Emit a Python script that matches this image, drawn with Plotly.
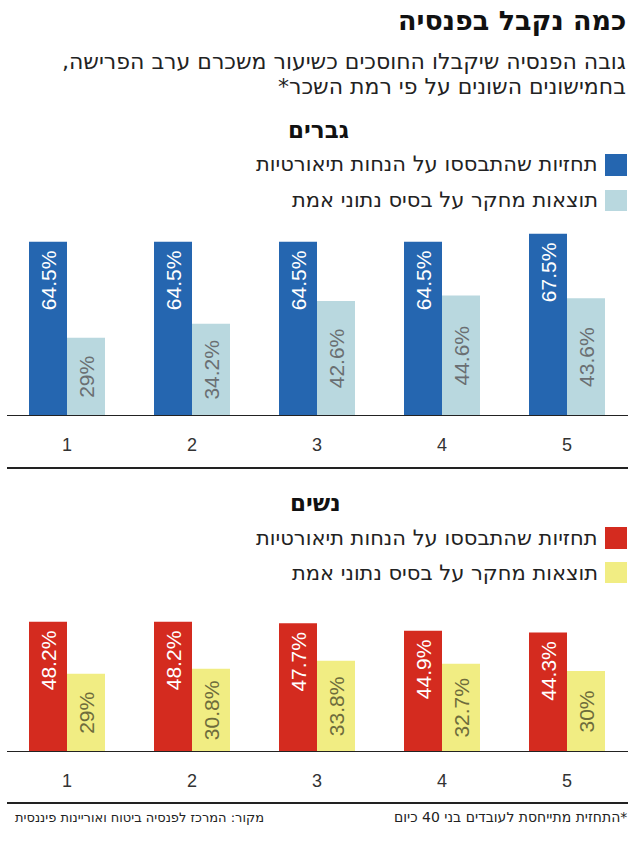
import plotly.graph_objects as go

categories = ["1", "2", "3", "4", "5"]
men_forecast = [64.5, 64.5, 64.5, 64.5, 67.5]
men_actual = [29, 34.2, 42.6, 44.6, 43.6]
women_forecast = [48.2, 48.2, 47.7, 44.9, 44.3]
women_actual = [29, 30.8, 33.8, 32.7, 30]

title = "כמה נקבל בפנסיה"
subtitle1 = "גובה הפנסיה שיקבלו החוסכים כשיעור משכרם ערב הפרישה,"
subtitle2 = "בחמישונים השונים על פי רמת השכר*"
men_label = "גברים"
women_label = "נשים"
legend_forecast = "תחזיות שהתבססו על הנחות תיאורטיות"
legend_actual = "תוצאות מחקר על בסיס נתוני אמת"
source = "מקור: המרכז לפנסיה ביטוח ואוריינות פיננסית"
footnote = "*התחזית מתייחסת לעובדים בני 40 כיום"

W, H = 634, 859
BLUE = "#2566b0"
LBLUE = "#b9d8df"
RED = "#d42b1f"
YELLOW = "#f1ed83"
FONT = "Liberation Sans"
HFONT = "DejaVu Sans"

RLM = "\u200f"
def rtl(s):
    return RLM + s + RLM

def py(p):
    return 1 - p / H

xs = list(range(1, len(categories) + 1))

fig = go.Figure()

def bars(vals, color, tcolor, anchor, xa, ya, pad=""):
    fig.add_trace(go.Bar(
        x=xs, y=vals, xaxis=xa, yaxis=ya, marker=dict(color=color, line=dict(width=0)),
        text=[f"{v:g}%{pad}" for v in vals], textposition="inside", insidetextanchor=anchor, textangle=-90,
        textfont=dict(color=tcolor, size=21, family=FONT), hoverinfo="skip",
    ))

bars(men_forecast, BLUE, "white", "end", "x", "y", pad="\u00a0")
bars(men_actual, LBLUE, "#6a6f72", "middle", "x", "y")
bars(women_forecast, RED, "white", "end", "x2", "y2", pad="\u00a0")
bars(women_actual, YELLOW, "#6e6c3c", "middle", "x2", "y2")

SCALE = 2.7  # px per percent
base1, top1 = 416, 220
base2, top2 = 752, 600

xaxis_common = dict(
    domain=[0, 1], range=[1 - 67 / 125, 1 + (W - 67) / 125],
    tickvals=xs, ticktext=categories, ticks="outside", ticklen=12,
    tickcolor="rgba(0,0,0,0)", showgrid=False, zeroline=False, showline=False,
    tickfont=dict(size=18, color="#333333", family=FONT), fixedrange=True,
)

fig.update_layout(
    width=W, height=H, margin=dict(l=0, r=0, t=0, b=0),
    paper_bgcolor="white", plot_bgcolor="white", showlegend=False,
    barmode="group", bargap=0.392, bargroupgap=0,
    xaxis=dict(anchor="y", **xaxis_common),
    xaxis2=dict(anchor="y2", **xaxis_common),
    yaxis=dict(domain=[py(base1), py(top1)], range=[0, (base1 - top1) / SCALE], visible=False),
    yaxis2=dict(domain=[py(base2), py(top2)], range=[0, (base2 - top2) / SCALE], visible=False),
)

shapes = []
for yref in ["y", "y2"]:
    shapes.append(dict(type="line", xref="paper", yref=yref, x0=7 / W, x1=628 / W, y0=0, y1=0,
                       line=dict(color="#222222", width=2)))
for p in [468, 803]:
    shapes.append(dict(type="line", xref="paper", yref="paper", x0=7 / W, x1=628 / W, y0=py(p), y1=py(p),
                       line=dict(color="#222222", width=2)))
for (y0, y1, c) in [(154, 176, BLUE), (190, 211, LBLUE), (527, 549, RED), (562, 583, YELLOW)]:
    shapes.append(dict(type="rect", xref="paper", yref="paper", x0=605 / W, x1=627 / W,
                       y0=py(y1), y1=py(y0), fillcolor=c, line=dict(width=0)))
fig.update_layout(shapes=shapes)

ann = []
def text(s, x, y, size, bold=False, color="#222222", anchor="right", font=HFONT):
    ann.append(dict(text=("<b>%s</b>" % rtl(s)) if bold else rtl(s), x=x / W, y=py(y), xref="paper", yref="paper",
                    xanchor=anchor, yanchor="middle", showarrow=False,
                    font=dict(size=size, color=color, family=font)))

text(title, 628, 21, 27, bold=True, color="#111111")
text(subtitle1, 628, 61, 22)
text(subtitle2, 628, 86, 22)
text(men_label, 351, 130, 23, bold=True, color="#111111")
text(legend_forecast, 600, 164, 21)
text(legend_actual, 600, 200, 21)
text(women_label, 343, 503, 23, bold=True, color="#111111")
text(legend_forecast, 600, 538, 21)
text(legend_actual, 600, 573, 21)
text(footnote, 629, 817, 14)
text(source, 266, 817, 13)
fig.update_layout(annotations=ann)

fig.write_html("out.html")
